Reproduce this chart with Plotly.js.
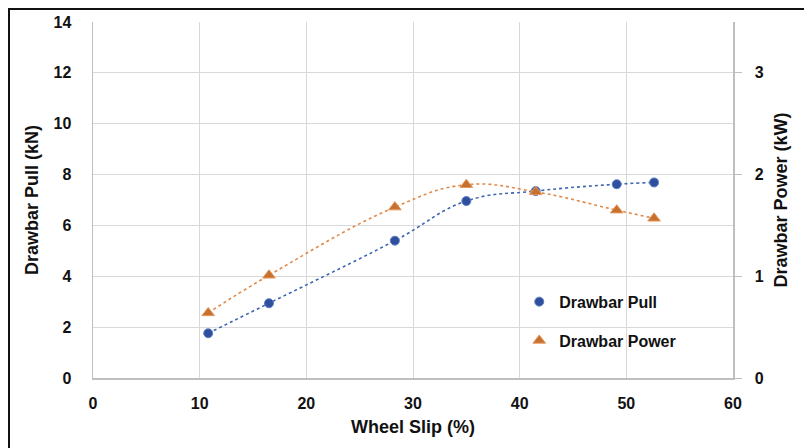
<!DOCTYPE html>
<html>
<head>
<meta charset="utf-8">
<script src="https://cdn.plot.ly/plotly-3.0.1.min.js"></script>
<style>
  html, body { margin: 0; padding: 0; background: #ffffff; }
  #chart { position: absolute; left: 0; top: 0; width: 804px; height: 448px; }
  #frame { position: absolute; left: 8px; top: 8px; width: 810px; height: 460px;
           border-left: 2px solid #111; border-top: 2px solid #111; pointer-events: none; }
</style>
</head>
<body>
<div id="chart"></div>
<div id="frame"></div>
<script>
// Data
const wheelSlip = [10.8, 16.5, 28.3, 35.0, 41.5, 49.1, 52.6];      // %
const drawbarPull = [1.76, 2.94, 5.40, 6.96, 7.35, 7.62, 7.69];   // kN
const drawbarPower = [0.64, 1.01, 1.68, 1.90, 1.83, 1.65, 1.57];  // kW

const xTicks = [0, 10, 20, 30, 40, 50, 60];
const yTicks = [0, 2, 4, 6, 8, 10, 12, 14];
const y2Ticks = [0, 1, 2, 3];

const FONT = '"Liberation Sans", Arial, sans-serif';
const TXT = '#111111';
const pullColor = '#2f4f9e';
const powerColor = '#c8702e';

const traces = [
  {
    x: wheelSlip, y: drawbarPull, type: 'scatter', mode: 'lines',
    line: { color: '#3f66b0', width: 1.6, dash: 'dot', shape: 'spline', smoothing: 1.2 },
    showlegend: false, hoverinfo: 'skip', yaxis: 'y'
  },
  {
    x: wheelSlip, y: drawbarPower, type: 'scatter', mode: 'lines',
    line: { color: '#e08a4a', width: 1.6, dash: 'dot', shape: 'spline', smoothing: 1.2 },
    showlegend: false, hoverinfo: 'skip', yaxis: 'y2'
  },
  {
    x: wheelSlip, y: drawbarPull, type: 'scatter', mode: 'markers',
    name: '<b>Drawbar Pull</b>', legendgroup: 'a',
    marker: { symbol: 'circle', size: 9, color: pullColor, line: { color: '#5b7fc4', width: 1 } },
    yaxis: 'y'
  },
  {
    x: wheelSlip, y: drawbarPower, type: 'scatter', mode: 'markers',
    name: '<b>Drawbar Power</b>', legendgroup: 'b',
    marker: { symbol: 'triangle-up', size: 11, color: powerColor, line: { color: '#e39a60', width: 1 } },
    yaxis: 'y2'
  }
];

const layout = {
  width: 804, height: 448,
  margin: { l: 93, r: 71, t: 22, b: 70 },
  paper_bgcolor: '#ffffff', plot_bgcolor: '#ffffff',
  font: { family: FONT, color: TXT, size: 16 },
  showlegend: true,
  legend: {
    x: 0.666, xanchor: 'left', y: 0.262, yanchor: 'top',
    bgcolor: 'rgba(255,255,255,0)', tracegroupgap: 15,
    font: { family: FONT, size: 16, color: TXT },
    itemwidth: 30
  },
  xaxis: {
    range: [0, 60], tickvals: xTicks, ticktext: xTicks.map(v => '<b>' + v + '</b>'),
    showgrid: true, gridcolor: '#d9d9d9', gridwidth: 1,
    showline: true, linecolor: '#bfbfbf', linewidth: 1.5,
    zeroline: false, ticks: '', ticklabelstandoff: 10,
    tickfont: { family: FONT, size: 16, color: TXT },
    title: { text: '<b>Wheel Slip (%)</b>', font: { family: FONT, size: 18, color: TXT }, standoff: 9 }
  },
  yaxis: {
    range: [0, 14], tickvals: yTicks, ticktext: yTicks.map(v => '<b>' + v + '</b>'),
    showgrid: true, gridcolor: '#d9d9d9', gridwidth: 1,
    showline: true, linecolor: '#bfbfbf', linewidth: 1.5,
    zeroline: false, ticks: '', ticklabelstandoff: 17,
    tickfont: { family: FONT, size: 16, color: TXT },
    title: { text: '<b>Drawbar Pull (kN)</b>', font: { family: FONT, size: 18, color: TXT }, standoff: 10 }
  },
  yaxis2: {
    range: [0, 3.5], tickvals: y2Ticks, ticktext: y2Ticks.map(v => '<b>' + v + '</b>'),
    overlaying: 'y', side: 'right', showgrid: false,
    showline: true, linecolor: '#bfbfbf', linewidth: 1.5,
    zeroline: false, ticks: 'outside', ticklen: 7, tickcolor: '#bfbfbf', ticklabelstandoff: 10,
    tickfont: { family: FONT, size: 16, color: TXT },
    title: { text: '<b>Drawbar Power (kW)</b>', font: { family: FONT, size: 18, color: TXT }, standoff: 11 }
  }
};

Plotly.newPlot('chart', traces, layout, { displayModeBar: false, staticPlot: true });
</script>
</body>
</html>
